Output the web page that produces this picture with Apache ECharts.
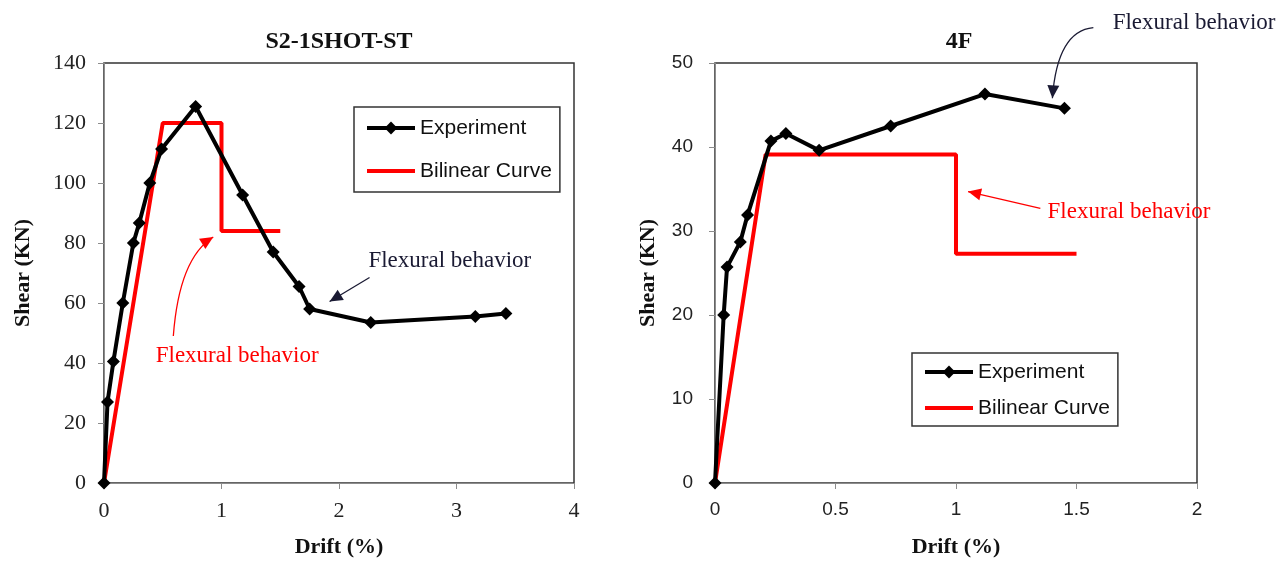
<!DOCTYPE html>
<html>
<head>
<meta charset="utf-8">
<title>Shear vs Drift</title>
<script src="https://cdn.jsdelivr.net/npm/echarts@6/dist/echarts.min.js"></script>
<style>
  html, body { margin: 0; padding: 0; background: #fff; }
  #chart { width: 1279px; height: 563px; }
</style>
</head>
<body>
<div id="chart"></div>
<script>
// S2-1SHOT-ST (left)
var expLeftX = [0, 0.03, 0.08, 0.16, 0.25, 0.30, 0.39, 0.49, 0.78, 1.18, 1.44, 1.66, 1.75, 2.27, 3.16, 3.42];
var expLeftY = [0, 27, 40.5, 60, 80, 86.7, 100, 111.3, 125.5, 96, 77, 65.5, 58, 53.5, 55.5, 56.5];
var bilinLeftX = [0, 0.5, 1.0, 1.0, 1.5];
var bilinLeftY = [0, 120, 120, 84, 84];

// 4F (right)
var expRightX = [0, 0.036, 0.05, 0.105, 0.135, 0.232, 0.294, 0.432, 0.729, 1.12, 1.45];
var expRightY = [0, 20, 25.7, 28.7, 31.9, 40.7, 41.6, 39.6, 42.5, 46.3, 44.6];
var bilinRightX = [0, 0.21, 1.0, 1.0, 1.5];
var bilinRightY = [0, 39.1, 39.1, 27.3, 27.3];

var titles = ['S2-1SHOT-ST', '4F'];
var seriesNames = ['Experiment', 'Bilinear Curve'];

function zip(xs, ys) {
    return xs.map(function (x, i) { return [x, ys[i]]; });
}

var serif = 'Liberation Serif';
var sans = 'Liberation Sans';

function xAxisOf(idx, max, interval, font, size) {
    return {
        type: 'value', gridIndex: idx, min: 0, max: max, interval: interval,
        name: 'Drift (%)', nameLocation: 'middle', nameGap: 53,
        nameTextStyle: { fontFamily: serif, fontWeight: 'bold', fontSize: 22, color: '#111' },
        axisLine: { show: true, onZero: false, lineStyle: { color: '#8c8c8c', width: 1 } },
        axisTick: { show: true, length: 6, lineStyle: { color: '#8c8c8c' } },
        axisLabel: { margin: 17, fontFamily: font, fontSize: size, color: '#222' },
        splitLine: { show: false }
    };
}
function yAxisOf(idx, max, interval, font, size, gap, margin) {
    return {
        type: 'value', gridIndex: idx, min: 0, max: max, interval: interval,
        name: 'Shear (KN)', nameLocation: 'middle', nameGap: gap,
        nameTextStyle: { fontFamily: serif, fontWeight: 'bold', fontSize: 22, color: '#111' },
        axisLine: { show: true, onZero: false, lineStyle: { color: '#8c8c8c', width: 1 } },
        axisTick: { show: true, length: 6, lineStyle: { color: '#8c8c8c' } },
        axisLabel: { margin: margin, fontFamily: font, fontSize: size, color: '#222' },
        splitLine: { show: false }
    };
}
function expSeries(idx, data) {
    return {
        name: seriesNames[0], type: 'line', xAxisIndex: idx, yAxisIndex: idx, data: data,
        symbol: 'diamond', symbolSize: 13, showAllSymbol: true,
        lineStyle: { color: '#000', width: 4 }, itemStyle: { color: '#000' }, z: 3
    };
}
function bilinSeries(idx, data) {
    return {
        name: seriesNames[1], type: 'line', xAxisIndex: idx, yAxisIndex: idx, data: data,
        showSymbol: false, symbol: 'none',
        lineStyle: { color: '#ff0000', width: 4 }, itemStyle: { color: '#ff0000' }, z: 2
    };
}
function legendOf(left, top, gap, pad) {
    return {
        data: [
            { name: seriesNames[0] },
            { name: seriesNames[1], icon: 'path://M0,0L48,0L48,4L0,4Z' }
        ],
        orient: 'vertical', left: left, top: top,
        itemWidth: 48, itemHeight: 16, itemGap: gap, itemTextGap: 5,
        padding: pad, borderColor: '#333', borderWidth: 1.5, selectedMode: false,
        lineStyle: { width: 4 },
        textStyle: { fontFamily: sans, fontSize: 21, color: '#111', lineHeight: 22 }
    };
}

var myChart = echarts.init(document.getElementById('chart'));
var option = {
    animation: false,
    backgroundColor: '#fff',
    title: [
        { text: titles[0], left: 334, top: 25, textAlign: 'center',
          textStyle: { fontFamily: serif, fontWeight: 'bold', fontSize: 24, color: '#111' } },
        { text: titles[1], left: 954, top: 25, textAlign: 'center',
          textStyle: { fontFamily: serif, fontWeight: 'bold', fontSize: 24, color: '#111' } }
    ],
    grid: [
        { left: 104, top: 63, right: 705, bottom: 79, show: true, borderColor: '#333', borderWidth: 1.5, containLabel: false },
        { left: 715, top: 63, right: 82, bottom: 79, show: true, borderColor: '#333', borderWidth: 1.5, containLabel: false }
    ],
    xAxis: [
        xAxisOf(0, 4, 1, serif, 22),
        xAxisOf(1, 2, 0.5, sans, 19)
    ],
    yAxis: [
        yAxisOf(0, 140, 20, serif, 22, 70, 18),
        yAxisOf(1, 50, 10, sans, 19, 56, 22)
    ],
    legend: [
        legendOf(354, 107, 21, [10, 8, 10, 11]),
        legendOf(912, 353, 14, [8, 8, 7, 11])
    ],
    series: [
        expSeries(0, zip(expLeftX, expLeftY)),
        bilinSeries(0, zip(bilinLeftX, bilinLeftY)),
        expSeries(1, zip(expRightX, expRightY)),
        bilinSeries(1, zip(bilinRightX, bilinRightY))
    ]
};
myChart.setOption(option);

// annotations, anchored in data coordinates of each grid
var notes = [
    { grid: 0, text: [2.25, 74], color: '#1a1a33', from: [2.26, 68.5], to: [1.92, 60.5], ctrl: null },
    { grid: 0, text: [0.44, 42.5], color: '#ff0000', from: [0.59, 49], to: [0.93, 82], ctrl: [0.64, 75] },
    { grid: 1, text: [1.65, 54.8], color: '#1a1a33', from: [1.57, 54.2], to: [1.40, 45.8], ctrl: [1.42, 53.8] },
    { grid: 1, text: [1.38, 32.3], color: '#ff0000', from: [1.35, 32.7], to: [1.05, 34.7], ctrl: null }
];

function px(g, p) { return myChart.convertToPixel({ gridIndex: g }, p); }

var graphics = [];
notes.forEach(function (n) {
    var t = px(n.grid, n.text);
    graphics.push({
        type: 'text', x: t[0], y: t[1],
        style: { text: 'Flexural behavior', fill: n.color, font: '23px "Liberation Serif"', textVerticalAlign: 'middle' }
    });
    var a = px(n.grid, n.from), b = px(n.grid, n.to);
    var c = n.ctrl ? px(n.grid, n.ctrl) : [(a[0] + b[0]) / 2, (a[1] + b[1]) / 2];
    graphics.push({
        type: 'bezierCurve',
        shape: { x1: a[0], y1: a[1], x2: b[0], y2: b[1], cpx1: c[0], cpy1: c[1] },
        style: { stroke: n.color, lineWidth: 1.3, fill: null }
    });
    var dx = b[0] - c[0], dy = b[1] - c[1];
    var len = Math.sqrt(dx * dx + dy * dy);
    dx /= len; dy /= len;
    var L = 13, W = 6;
    var bx = b[0] - dx * L, by = b[1] - dy * L;
    graphics.push({
        type: 'polygon',
        shape: { points: [[b[0], b[1]], [bx - dy * W, by + dx * W], [bx + dy * W, by - dx * W]] },
        style: { fill: n.color }
    });
});
myChart.setOption({ graphic: graphics });
window.onresize = myChart.resize;
</script>
</body>
</html>
